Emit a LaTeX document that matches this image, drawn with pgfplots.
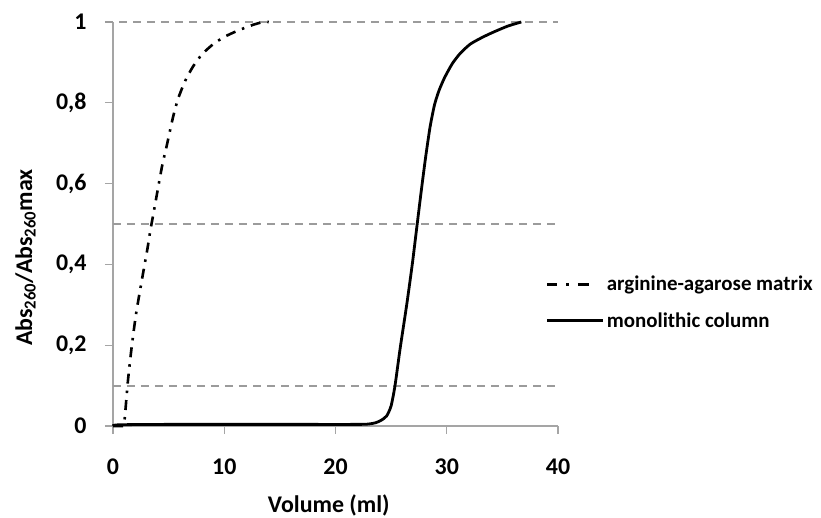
\documentclass[border=0pt]{standalone}
\usepackage{pgfplots}
\pgfplotsset{compat=1.18}
\usepackage{fontspec}
\setmainfont{Carlito}
\definecolor{axgray}{RGB}{165,165,165}
\definecolor{dgray}{RGB}{155,155,155}
\begin{document}
\begin{tikzpicture}
\path[use as bounding box] (-113bp,-92bp) rectangle (708bp,426bp);
\begin{axis}[
  at={(0,0)}, anchor=south west,
  scale only axis, width=445bp, height=404bp,
  xmin=0, xmax=40, ymin=0, ymax=1,
  axis x line*=bottom, axis y line*=left,
  axis line style={-, axgray, line width=1.3bp},
  tick style={axgray, line width=1.3bp},
  tick align=outside, major tick length=8bp,
  xtick={0,10,20,30,40}, ytick={0,0.2,0.4,0.6,0.8,1},
  clip=false,
  font=\fontsize{24}{28}\selectfont\bfseries,
  ticklabel style={font=\fontsize{24}{28}\selectfont\bfseries},
  /pgf/number format/assume math mode=true,
  yticklabel style={xshift=-15bp, /pgf/number format/.cd, fixed, precision=1, use comma},
  xticklabel style={yshift=-21bp},
  xlabel={Volume (ml)},
  ylabel={Abs\textsubscript{260}/Abs\textsubscript{260}max},
  every axis x label/.style={at={(axis description cs:0.485,0)}, anchor=base, yshift=-86bp, font=\fontsize{24}{28}\selectfont\bfseries},
  every axis y label/.style={at={(axis description cs:-0.182,0.417)}, rotate=90, anchor=base, font=\fontsize{24}{28}\selectfont\bfseries},
  legend style={at={(rel axis cs:0.966,0.306)}, anchor=west, draw=none, fill=none,
    font=\fontsize{21}{25}\selectfont\bfseries, row sep=16bp},
  legend cell align=left,
  legend image code/.code={\draw[#1] (0bp,0bp) -- (56bp,0bp);},
]
\addplot[dgray, line width=1.8bp, dash pattern=on 8bp off 6bp, forget plot] coordinates {(-0.7,1) (40,1)};
\addplot[dgray, line width=1.8bp, dash pattern=on 8bp off 6bp, forget plot] coordinates {(0,0.5) (39.8,0.5)};
\addplot[dgray, line width=1.8bp, dash pattern=on 8bp off 6bp, forget plot] coordinates {(0,0.1) (39.8,0.1)};
\addplot[black, line width=2.6bp, dash pattern=on 10bp off 7bp on 2.5bp off 7bp, smooth, tension=0.4,
  legend image code/.code={\draw[black, line width=2.6bp, dash pattern=on 10bp off 9bp on 2.5bp off 9bp on 11bp off 30bp] (0bp,0bp) -- (56bp,0bp);}] coordinates {
(0,0) (0.9,0) (1.0,0.006) (1.08,0.027) (1.35,0.114) (1.68,0.196) (2.07,0.277) (2.58,0.359) (3.11,0.441) (3.33,0.48) (3.63,0.525) (4.16,0.606) (4.46,0.65) (4.8,0.69) (5.4,0.765) (5.85,0.81) (6.5,0.855) (7.2,0.89) (8.0,0.92) (9.0,0.945) (10.0,0.963) (11.0,0.976) (11.9,0.986) (12.7,0.994) (13.5,1.0) (14,1.0)};
\addlegendentry{arginine-agarose matrix}
\addplot[black, line width=2.8bp, smooth, tension=0.4] coordinates {
(0,0) (0.5,0.003) (5,0.004) (15,0.004) (22,0.004) (23,0.005) (23.6,0.008) (24.1,0.014) (24.6,0.025) (25.0,0.05) (25.35,0.10) (25.8,0.19) (26.4,0.30) (26.9,0.40) (27.3,0.49) (27.7,0.58) (28.1,0.665) (28.5,0.74) (28.9,0.795) (29.3,0.83) (29.8,0.862) (30.5,0.897) (31.2,0.922) (32.1,0.945) (33.2,0.962) (34.2,0.975) (35.5,0.99) (36.7,1.0)};
\addlegendentry{monolithic column}
\end{axis}
\end{tikzpicture}
\end{document}
